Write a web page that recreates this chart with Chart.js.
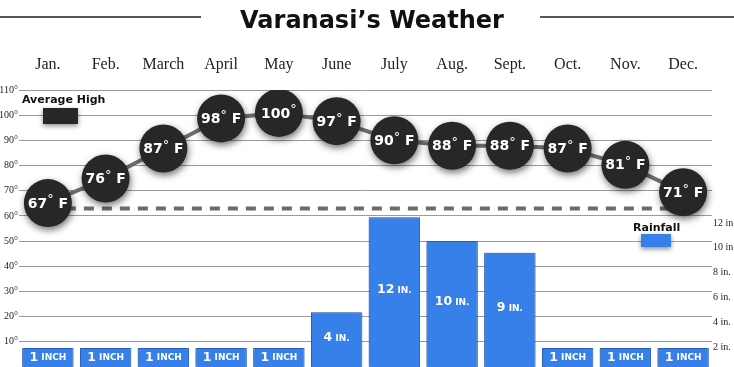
<!DOCTYPE html>
<html>
<head>
<meta charset="utf-8">
<script src="https://cdn.jsdelivr.net/npm/chart.js@4/dist/chart.umd.min.js"></script>
<style>
html,body{margin:0;padding:0;background:#fff;}
#wrap{width:734px;height:367px;}
</style>
</head>
<body>
<div id="wrap"><canvas id="c" width="734" height="367"></canvas></div>
<script>
// ---- data ----
const months = ['Jan.','Feb.','March','April','May','June','July','Aug.','Sept.','Oct.','Nov.','Dec.'];
const avgHigh = [67, 76, 87, 98, 100, 97, 90, 88, 88, 87, 81, 71];      // °F
const rainfall = [1, 1, 1, 1, 1, 4, 12, 10, 9, 1, 1, 1];               // inches
const dashedRef = [65, 65, 65, 65, 65, 65, 65, 65, 65, 65, 65, 65];    // dashed reference line (°F)
const tempTicks = [10, 20, 30, 40, 50, 60, 70, 80, 90, 100, 110];
const rainTicks = [2, 4, 6, 8, 10, 12];
const titleText = 'Varanasi’s Weather';

const SANS = '"DejaVu Sans", Verdana, sans-serif';
const SERIF = '"Liberation Serif", "Times New Roman", serif';
const BLUE = '#3780ea';
const DARK = '#272727';

const bgTitlePlugin = {
  id: 'bgTitle',
  beforeDraw(chart) {
    const ctx = chart.ctx;
    ctx.save();
    ctx.fillStyle = '#fff';
    ctx.fillRect(0, 0, chart.width, chart.height);
    ctx.font = 'bold 24px ' + SANS;
    ctx.fillStyle = '#111';
    ctx.textAlign = 'center';
    ctx.textBaseline = 'alphabetic';
    ctx.fillText(titleText, 372, 28);
    ctx.strokeStyle = '#555';
    ctx.lineWidth = 2;
    ctx.beginPath();
    ctx.moveTo(0, 17); ctx.lineTo(201, 17);
    ctx.moveTo(540, 17); ctx.lineTo(734, 17);
    ctx.stroke();
    ctx.restore();
  }
};

const shadowPlugin = {
  id: 'shadows',
  beforeDatasetDraw(chart, args) {
    const ds = chart.data.datasets[args.index];
    const ctx = chart.ctx;
    ctx.save();
    if (ds.shadow) {
      ctx.shadowColor = ds.shadow.color;
      ctx.shadowBlur = ds.shadow.blur;
      ctx.shadowOffsetX = ds.shadow.x;
      ctx.shadowOffsetY = ds.shadow.y;
    }
  },
  afterDatasetDraw(chart) {
    chart.ctx.restore();
  }
};

function drawParts(ctx, parts, cx, cy) {
  let total = 0;
  parts.forEach(p => { ctx.font = p.font; p.w = ctx.measureText(p.text).width; total += p.w; });
  let x = cx - total / 2;
  parts.forEach(p => {
    ctx.font = p.font;
    ctx.fillText(p.text, x, cy + (p.dy || 0));
    x += p.w;
  });
}

const labelPlugin = {
  id: 'labels',
  afterDatasetsDraw(chart) {
    const ctx = chart.ctx;
    const bottom = Math.min(chart.chartArea.bottom, chart.height);
    ctx.save();
    ctx.fillStyle = '#fff';
    ctx.textBaseline = 'middle';
    ctx.textAlign = 'left';
    const barMeta = chart.getDatasetMeta(0);
    barMeta.data.forEach((bar, i) => {
      const v = rainfall[i];
      const cy = (bar.y + bottom) / 2 + (v === 1 ? 0 : -2);
      drawParts(ctx, [
        {text: String(v), font: 'bold 12.5px ' + SANS},
        {text: v === 1 ? ' INCH' : ' IN.', font: 'bold 9px ' + SANS, dy: 0.5}
      ], bar.x, cy);
    });
    const ptMeta = chart.getDatasetMeta(3);
    ptMeta.data.forEach((pt, i) => {
      const v = avgHigh[i];
      const parts = [
        {text: String(v), font: 'bold 14px ' + SANS},
        {text: '°', font: '13px ' + SANS, dy: -4}
      ];
      if (v < 100) parts.push({text: ' F', font: 'bold 14px ' + SANS});
      drawParts(ctx, parts, pt.x, pt.y + 1);
    });
    ctx.restore();

    ctx.save();
    ctx.fillStyle = '#111';
    ctx.font = 'bold 11px ' + SANS;
    ctx.textBaseline = 'middle';
    ctx.textAlign = 'left';
    ctx.fillText('Average High', 22, 100);
    ctx.fillText('Rainfall', 633, 228);
    ctx.shadowColor = 'rgba(0,0,0,0.45)';
    ctx.shadowBlur = 5;
    ctx.shadowOffsetY = 2;
    ctx.fillStyle = DARK;
    ctx.fillRect(43, 108, 35, 16);
    ctx.fillStyle = BLUE;
    ctx.fillRect(641, 234, 30, 13);
    ctx.restore();
  }
};

function noPad(w) {
  return ax => { ax.width = w; ax.paddingTop = 0; ax.paddingBottom = 0; };
}

new Chart(document.getElementById('c'), {
  data: {
    labels: months,
    datasets: [
      {
        type: 'bar',
        data: rainfall,
        yAxisID: 'yB',
        base: -0.6,
        backgroundColor: BLUE,
        borderColor: '#2c6bd0',
        borderWidth: 1,
        barPercentage: 0.89,
        categoryPercentage: 1,
        order: 4,
        shadow: {color: 'rgba(0,0,0,0.35)', blur: 4, x: -1, y: 0}
      },
      {
        type: 'line',
        data: dashedRef,
        yAxisID: 'yT',
        borderColor: '#6b6b6b',
        borderWidth: 4,
        borderDash: [10, 8],
        pointRadius: 0,
        fill: false,
        order: 3
      },
      {
        type: 'line',
        data: avgHigh,
        yAxisID: 'yT',
        borderColor: '#6e6e6e',
        borderWidth: 4,
        pointRadius: 0,
        fill: false,
        tension: 0,
        order: 2
      },
      {
        type: 'line',
        data: avgHigh,
        yAxisID: 'yT',
        showLine: false,
        pointRadius: 24,
        pointBackgroundColor: DARK,
        pointBorderWidth: 0,
        pointBorderColor: DARK,
        order: 1,
        shadow: {color: 'rgba(0,0,0,0.55)', blur: 7, x: 1, y: 3}
      }
    ]
  },
  options: {
    responsive: false,
    maintainAspectRatio: false,
    animation: false,
    devicePixelRatio: 1,
    layout: {autoPadding: false, padding: {top: 55, left: 0, right: 0, bottom: 0}},
    plugins: {legend: {display: false}, tooltip: {enabled: false}, title: {display: false}},
    scales: {
      x: {
        type: 'category',
        position: 'top',
        afterFit: ax => { ax.height = 35; },
        grid: {display: false, drawTicks: false},
        border: {display: false},
        ticks: {font: {family: SERIF, size: 16}, color: '#222', padding: 16, maxRotation: 0, autoSkip: false}
      },
      y: {
        position: 'left',
        min: 0, max: 110,
        afterBuildTicks: ax => { ax.ticks = tempTicks.map(v => ({value: v})); },
        afterFit: noPad(19),
        grid: {color: '#9a9a9a', lineWidth: 1, drawTicks: false},
        border: {display: false},
        ticks: {font: {family: SERIF, size: 10}, color: '#222', padding: 1, callback: v => v + '°'}
      },
      yR: {
        position: 'right',
        min: 0.39, max: 22.73,
        afterBuildTicks: ax => { ax.ticks = rainTicks.map(v => ({value: v})); },
        afterFit: noPad(22),
        grid: {display: false, drawTicks: false},
        border: {display: false},
        ticks: {font: {family: SERIF, size: 10}, color: '#222', padding: 1, callback: v => v + ' in.'}
      },
      yT: {display: false, min: 7, max: 108.4},
      yB: {display: false, min: -0.6, max: 22.7}
    }
  },
  plugins: [bgTitlePlugin, shadowPlugin, labelPlugin]
});
</script>
</body>
</html>
